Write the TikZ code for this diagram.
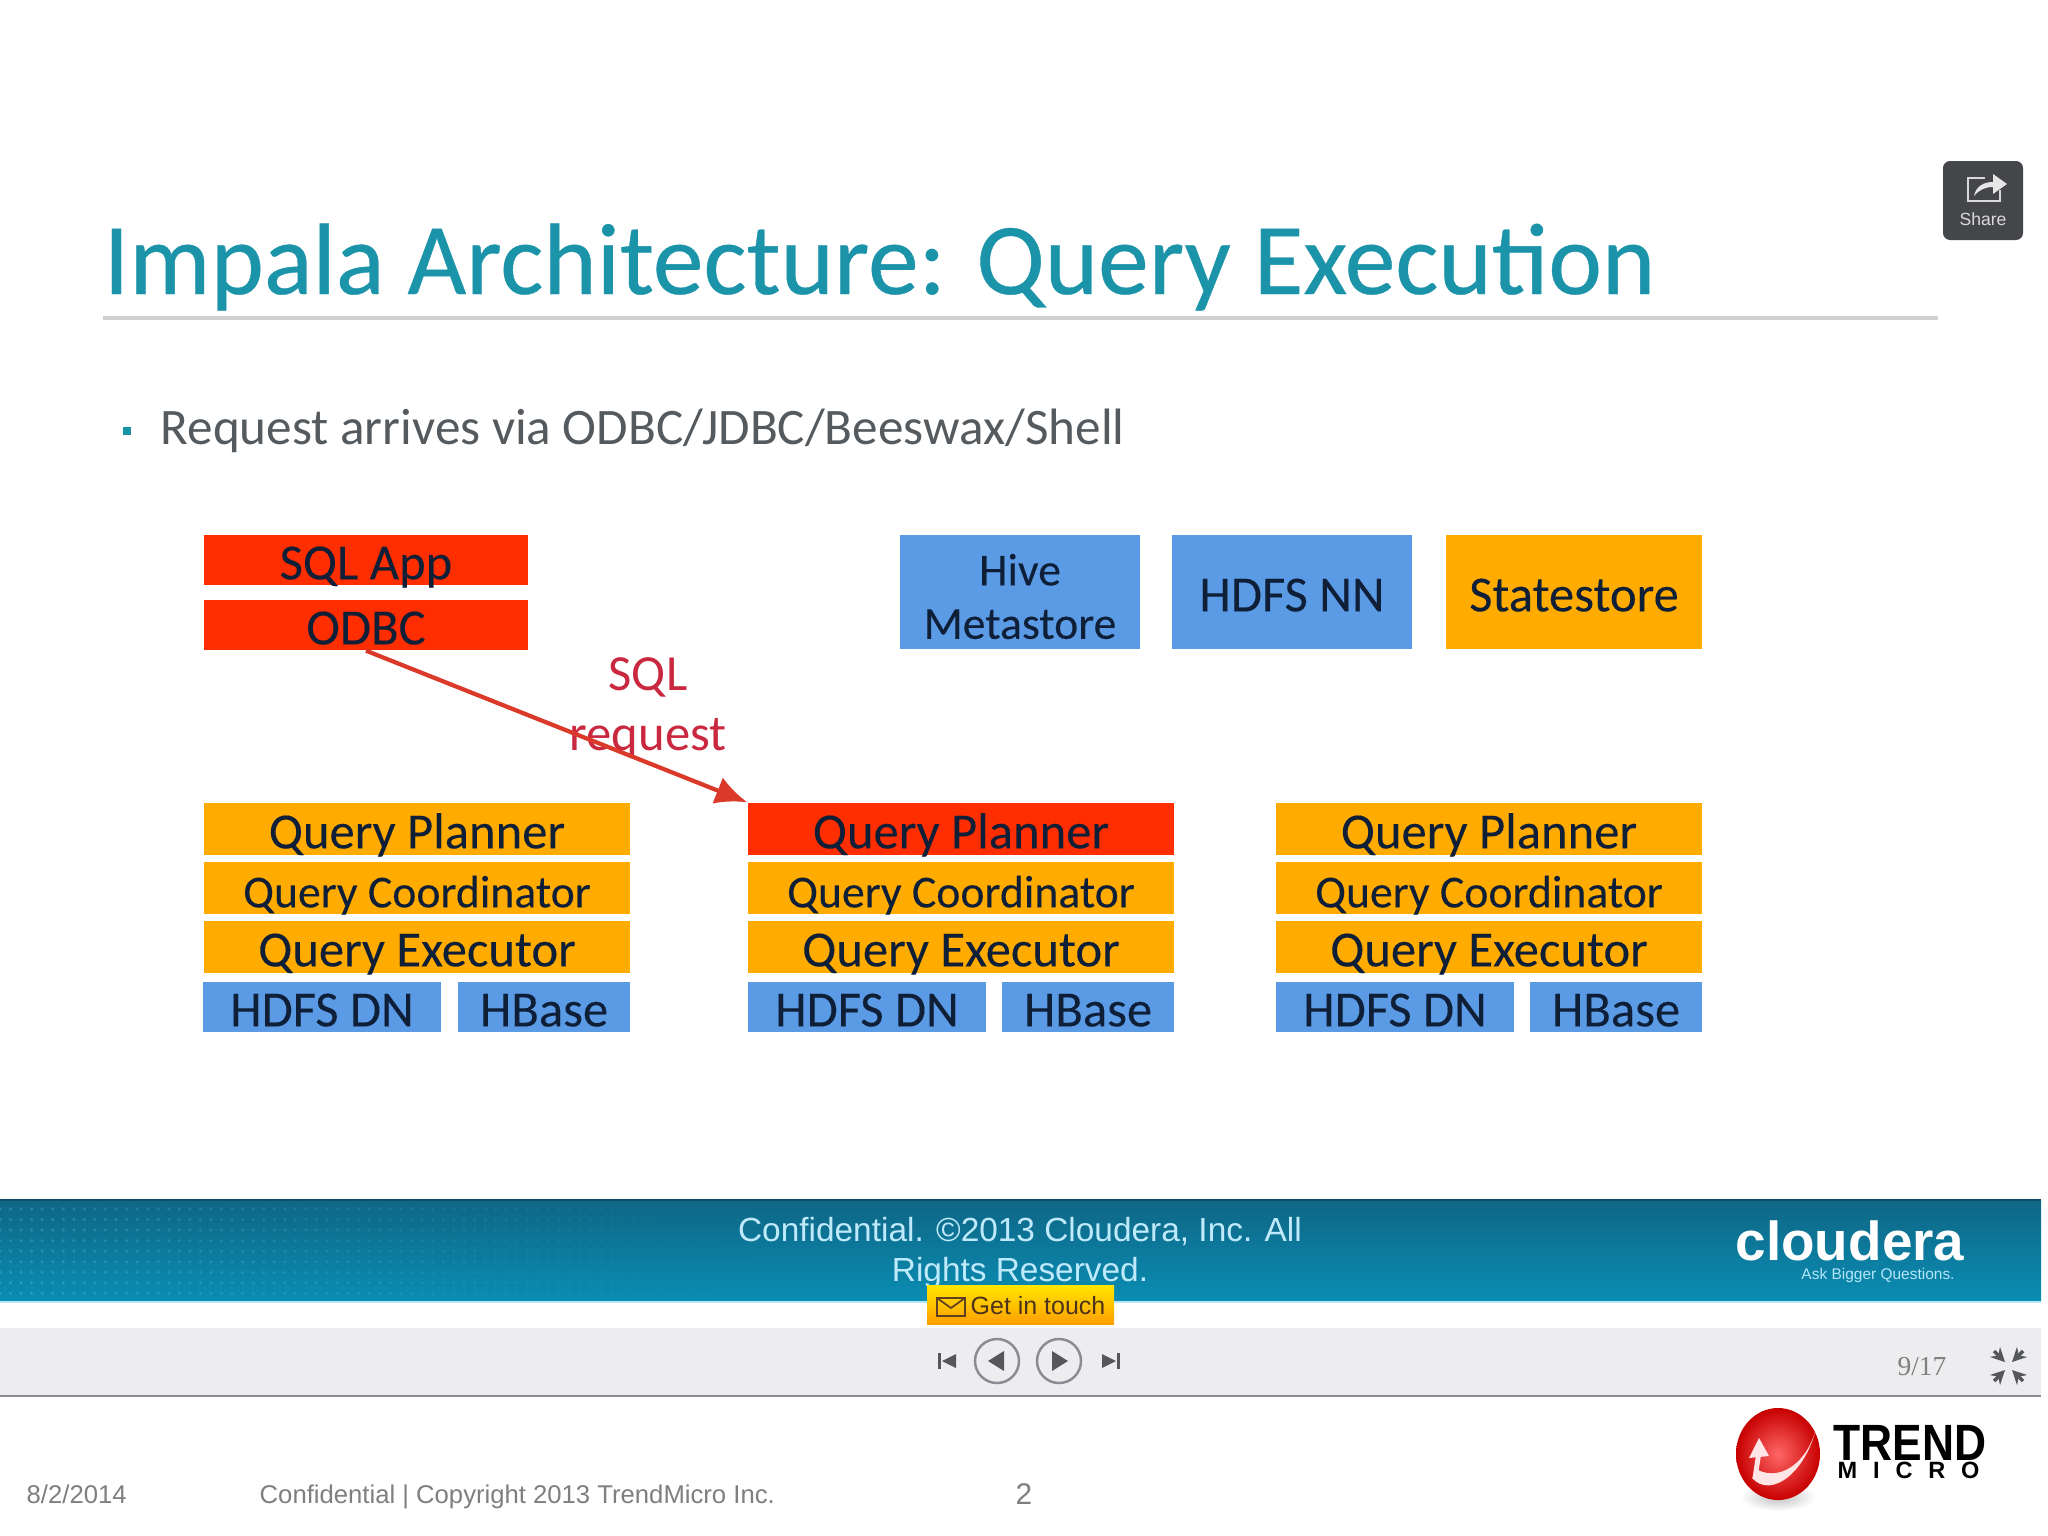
\documentclass[tikz,border=0pt]{standalone}
\usepackage{fontspec}
\setmainfont{Carlito}
\newfontfamily\titlefont[FakeBold=0.35]{Carlito}
\newfontfamily\boxfont[FakeBold=0.15]{Carlito}
\newfontfamily\footfont{Liberation Sans}
\newfontfamily\pagefont{Liberation Serif}
\usetikzlibrary{
	arrows.meta,
	patterns,
	fadings
}
\definecolor{tealtitle}{HTML}{1B93A9}
\definecolor{textgrey}{HTML}{555A5E}
\definecolor{footgrey}{HTML}{7F7F7F}
\definecolor{barred}{HTML}{FF2E00}
\definecolor{barorange}{HTML}{FFAB00}
\definecolor{barblue}{HTML}{5B9BE6}
\definecolor{boxtext}{HTML}{0F1F38}
\definecolor{arrowred}{HTML}{DB3A2A}
\definecolor{sqlred}{HTML}{C9283F}
\definecolor{bandtop}{HTML}{0F6685}
\definecolor{bandlow}{HTML}{0A8DB3}
\definecolor{navgrey}{HTML}{EDEDEF}
\definecolor{iconline}{HTML}{8A8C94}
\definecolor{icondark}{HTML}{55575C}
\tikzset{
	fontbox/.style={font=\boxfont\fontsize{14.4}{15.2}\selectfont,text=boxtext,inner sep=0pt,align=center,text height=11pt,text depth=0pt},
	redbar/.style={fontbox,fill=barred},
	orangebar/.style={fontbox,fill=barorange},
	bluebar/.style={fontbox,fill=barblue},
	stackbar/.style={minimum width=121.2pt,minimum height=14.8pt},
	dnbar/.style={minimum width=67.7pt,minimum height=14.2pt},
	basebar/.style={minimum width=48.7pt,minimum height=14.2pt},
	topbar/.style={minimum width=92.2pt,minimum height=14.2pt},
	metabar/.style={minimum width=68pt,minimum height=32.4pt},
	footlabel/.style={font=\footfont\fontsize{7.3}{9}\selectfont,text=footgrey,inner sep=0pt,anchor=base west},
	navicon/.style={draw=iconline,line width=0.7pt,fill=navgrey},
	navmark/.style={fill=icondark,draw=none},
	closemark/.style={-{Stealth[length=4pt,width=4pt]},icondark,line width=1pt}
}
\begin{document}
\begin{tikzpicture}[x=0.01cm,y=-0.01cm]
    % Definitions
    \useasboundingbox (0,0) rectangle (2048,1536);
    \fill[white] (0,0) rectangle (2048,1536);
    % Share button
    \fill[icondark!80!black,rounded corners=2pt] (1943,161) rectangle (2023,240);
    \draw[white!85!black,line width=0.8pt] (1985,178) -- (1968,178) -- (1968,201) -- (2000,201) -- (2000,190);
    \fill[white!90!black] (1974,196) .. controls (1976,186) and (1984,182) .. (1993,182) -- (1993,174) -- (2007,184) -- (1993,194) -- (1993,187) .. controls (1985,187) and (1979,190) .. (1974,196) -- cycle;
    \node[font=\footfont\fontsize{5}{6}\selectfont,text=white!85!black,inner sep=0pt] (share) at (1983,219) {Share};
    % Title
    \node[font=\titlefont\fontsize{28.9}{32}\selectfont,text=tealtitle,inner sep=0pt,anchor=base west] (title) at (103,294) {Impala Architecture: Query Execution};
    \draw[line width=1pt,white!82!black] (103,318) -- (1938,318);
    % Bullet
    \fill[tealtitle] (123,427) rectangle (131,435);
    \node[font=\fontsize{14.55}{16}\selectfont,text=textgrey,inner sep=0pt,anchor=base west] (request) at (160,444) {Request arrives via ODBC/JDBC/Beeswax/Shell};
    % Top row
    \node[redbar,topbar] (sqlapp) at (366,560) {SQL App};
    \node[redbar,topbar] (odbc) at (366,625) {ODBC};
    \node[bluebar,metabar,font=\boxfont\fontsize{13}{15.2}\selectfont,text height={},text depth={}] (hive) at (1020,592) {\rule{0pt}{11.5pt}Hive\\Metastore};
    \node[bluebar,metabar] (hdfsnn) at (1292,592) {HDFS NN};
    \node[orangebar,metabar,minimum width=72.8pt] (statestore) at (1574,592) {Statestore};
    % Left stack
    \node[orangebar,stackbar] (plannerA) at (417,829) {Query Planner};
    \node[orangebar,stackbar,font=\boxfont\fontsize{13}{15.2}\selectfont] (coordA) at (417,888) {Query Coordinator};
    \node[orangebar,stackbar] (execA) at (417,947) {Query Executor};
    \node[bluebar,dnbar] (dnA) at (322,1007) {HDFS DN};
    \node[bluebar,basebar] (hbaseA) at (544,1007) {HBase};
    % Middle stack
    \node[redbar,stackbar] (plannerB) at (961,829) {Query Planner};
    \node[orangebar,stackbar,font=\boxfont\fontsize{13}{15.2}\selectfont] (coordB) at (961,888) {Query Coordinator};
    \node[orangebar,stackbar] (execB) at (961,947) {Query Executor};
    \node[bluebar,dnbar] (dnB) at (867,1007) {HDFS DN};
    \node[bluebar,basebar] (hbaseB) at (1088,1007) {HBase};
    % Right stack
    \node[orangebar,stackbar] (plannerC) at (1489,829) {Query Planner};
    \node[orangebar,stackbar,font=\boxfont\fontsize{13}{15.2}\selectfont] (coordC) at (1489,888) {Query Coordinator};
    \node[orangebar,stackbar] (execC) at (1489,947) {Query Executor};
    \node[bluebar,dnbar] (dnC) at (1395,1007) {HDFS DN};
    \node[bluebar,basebar] (hbaseC) at (1616,1007) {HBase};
    % SQL request
    \node[font=\fontsize{14.4}{17}\selectfont,text=sqlred,inner sep=0pt,align=center] (sqlrequest) at (648,708) {SQL\\request};
    \draw[-{Latex[length=9pt,width=8pt]},arrowred,line width=1.2pt] (odbc.south) -- (plannerB.north west);
    % Footer band
    \shade[top color=bandtop,bottom color=bandlow] (0,1200) rectangle (2041,1301);
    \fill[pattern=dots,pattern color=cyan!40!white,opacity=0.18,path fading=east] (0,1206) rectangle (780,1298);
    \draw[bandtop!80!black,line width=0.6pt] (0,1200) -- (2041,1200);
    \draw[white!70!cyan,line width=0.5pt] (0,1302) -- (2041,1302);
    \node[font=\footfont\fontsize{9.5}{11.2}\selectfont,text=white!75!cyan,inner sep=0pt,align=center] (confidential) at (1020,1253) {Confidential. \textcopyright2013 Cloudera, Inc. All\\Rights Reserved.};
    \node[font=\footfont\bfseries\fontsize{15.6}{16}\selectfont,text=white,inner sep=0pt] (cloudera) at (1850,1241) {cloudera};
    \node[font=\footfont\fontsize{4.4}{5}\selectfont,text=white!70!cyan,inner sep=0pt] (askbigger) at (1878,1275) {Ask Bigger Questions.};
    % Navigation bar
    \fill[navgrey] (0,1328) rectangle (2041,1395);
    \draw[iconline,line width=0.7pt] (0,1396) -- (2041,1396);
    \shade[top color=yellow!80!orange,bottom color=orange!75!yellow] (927,1285) rectangle (1114,1324);
    \draw[black!50!brown,line width=0.5pt] (937,1298) rectangle (965,1316);
    \draw[black!50!brown,line width=0.5pt] (937,1298) -- (951,1308) -- (965,1298);
    \node[font=\footfont\fontsize{7.1}{9}\selectfont,text=black!60!brown,inner sep=0pt] (getintouch) at (1038,1306) {Get in touch};
    \draw[navicon] (997,1361) circle (22);
    \draw[navicon] (1059,1361) circle (22);
    \fill[navmark] (988,1361) -- (1004,1351) -- (1004,1371) -- cycle;
    \fill[navmark] (1068,1361) -- (1052,1351) -- (1052,1371) -- cycle;
    \fill[navmark] (942,1361) -- (956,1354) -- (956,1368) -- cycle;
    \fill[navmark] (938,1353) rectangle (941,1369);
    \fill[navmark] (1116,1361) -- (1102,1354) -- (1102,1368) -- cycle;
    \fill[navmark] (1117,1353) rectangle (1120,1369);
    \node[font=\pagefont\fontsize{7.8}{8}\selectfont,text=footgrey,inner sep=0pt] (pagecount) at (1922,1367) {9/17};
    \draw[closemark] (1994,1351) -- (2005,1362);
    \draw[closemark] (2023,1351) -- (2012,1362);
    \draw[closemark] (1994,1381) -- (2005,1370);
    \draw[closemark] (2023,1381) -- (2012,1370);
    % Trend Micro logo
    \shade[inner color=black!25,outer color=white] (1778,1497) ellipse (38 and 14);
    \shade[inner color=red!60!white,outer color=red!78!black] (1778,1454) ellipse (42 and 46);
    \fill[white!90!red] (1752,1478) .. controls (1772,1500) and (1808,1470) .. (1817,1424) .. controls (1810,1460) and (1782,1482) .. (1758,1470) -- cycle;
    \fill[white!90!red] (1759,1438) -- (1749,1458) -- (1769,1456) -- cycle;
    \draw[white!90!red,line width=1.4pt] (1759,1452) -- (1755,1478);
    \node[font=\footfont\bfseries\fontsize{14.5}{14}\selectfont,text=black,inner sep=0pt,anchor=base west] (trend) at (1833,1460) {\scalebox{0.87}[1]{TREND}};
    \node[font=\footfont\bfseries\fontsize{6.7}{8}\selectfont,text=black,inner sep=0pt,anchor=base west] (micro) at (1837,1478) {M\hspace{4.5pt}I\hspace{4.5pt}C\hspace{4.5pt}R\hspace{4.5pt}O};
    % Footer labels
    \node[footlabel] (date) at (26,1503) {8/2/2014};
    \node[footlabel] (copyright) at (259,1503) {Confidential | Copyright 2013 TrendMicro Inc.};
    \node[footlabel,font=\footfont\fontsize{8.5}{9}\selectfont] (pagenum) at (1015,1504) {2};
\end{tikzpicture}
\end{document}
